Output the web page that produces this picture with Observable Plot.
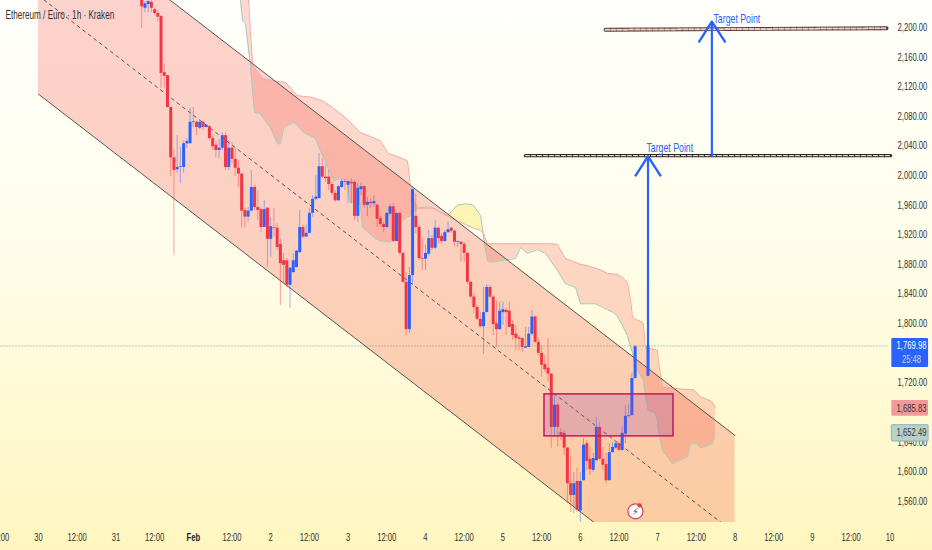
<!DOCTYPE html>
<html><head><meta charset="utf-8">
<script src="https://cdn.jsdelivr.net/npm/d3@7"></script>
<script src="https://cdn.jsdelivr.net/npm/@observablehq/plot@0.6"></script>
<style>html,body{margin:0;padding:0;background:#fffbe0}svg{display:block}</style>
</head><body><div id="chart"></div>
<script>
const candleHours = [...d3.range(32, 186), 189];
const opens = [
2243,2226,2231,2234,2224,2219,2215,2139,2135,2092,
2024,2008,2011,2011,2043,2043,2072,2072,2064,2072,
2065,2066,2050,2041,2034,2037,2054,2011,2037,2022,
2010,2002,1953,1944,1952,1984,1957,1954,1930,1956,
1914,1930,1929,1907,1885,1885,1852,1869,1876,1896,
1930,1917,1922,1949,1968,1969,2012,1998,1998,1988,
1976,1966,1984,1992,1987,1991,1991,1945,1981,1985,
1960,1964,1962,1960,1942,1934,1930,1948,1958,1911,
1949,1895,1856,1792,1865,1945,1930,1888,1887,1894,
1915,1902,1929,1918,1911,1923,1929,1925,1910,1910,
1907,1895,1856,1836,1822,1806,1796,1815,1849,1836,
1800,1792,1815,1818,1817,1799,1786,1781,1780,1767,
1768,1786,1809,1775,1760,1745,1740,1732,1660,1690,
1653,1652,1632,1584,1568,1587,1547,1588,1638,1617,
1602,1615,1660,1617,1610,1588,1626,1632,1638,1629,
1651,1675,1676,1726,1729];
const closes = [
2228,2232,2235,2226,2219,2214,2138,2134,2092,2024,
2007,2011,2012,2043,2046,2072,2073,2065,2072,2065,
2068,2050,2039,2034,2037,2054,2011,2037,2022,2010,
2002,1952,1944,1952,1984,1957,1953,1930,1954,1914,
1931,1929,1903,1881,1879,1852,1875,1885,1898,1930,
1917,1922,1949,1968,1971,2012,1998,1996,1988,1976,
1966,1985,1992,1991,1992,1989,1945,1983,1985,1960,
1964,1962,1965,1941,1934,1930,1949,1958,1911,1949,
1895,1856,1792,1865,1981,1930,1888,1887,1895,1915,
1902,1929,1915,1911,1923,1927,1925,1910,1911,1907,
1895,1856,1836,1822,1806,1796,1815,1849,1836,1799,
1792,1817,1819,1815,1795,1784,1780,1779,1768,1769,
1786,1809,1775,1760,1744,1738,1732,1660,1690,1660,
1649,1632,1584,1568,1584,1548,1587,1636,1614,1603,
1618,1660,1617,1609,1588,1626,1633,1638,1629,1652,
1675,1676,1726,1769,1770];
const highs = [
2247,2235,2239,2239,2226,2223,2216,2151,2135,2092,
2035,2054,2038,2047,2050,2091,2092,2074,2073,2074,
2069,2068,2054,2047,2049,2058,2058,2047,2045,2037,
2021,2004,1956,1957,2007,1987,1980,1956,1966,1957,
1944,1956,1935,1915,1895,1888,1876,1895,1899,1953,
1933,1933,1956,1973,2000,2030,2023,2014,2007,1991,
1980,1987,1995,1995,1993,1996,1993,1989,1989,1987,
1971,1969,1973,1962,1946,1937,1950,1961,1962,1950,
1950,1896,1869,1876,1983,1976,1933,1915,1906,1926,
1919,1939,1930,1922,1926,1937,1930,1926,1912,1911,
1910,1896,1857,1841,1825,1815,1849,1853,1852,1838,
1831,1829,1829,1821,1829,1804,1798,1784,1781,1795,
1795,1818,1811,1781,1771,1757,1780,1733,1706,1692,
1659,1656,1633,1620,1599,1605,1599,1645,1642,1633,
1625,1673,1667,1633,1625,1638,1640,1640,1640,1661,
1690,1691,1733,1771,1770];
const lows = [
2199,2220,2220,2220,2216,2207,2118,2118,2091,1999,
1892,2003,1989,2004,2037,2043,2065,2054,2062,2061,
2064,2047,2034,2024,2023,2034,2007,2007,2016,1999,
1984,1929,1929,1937,1952,1953,1939,1923,1930,1876,
1890,1917,1899,1825,1854,1849,1821,1869,1875,1895,
1915,1917,1922,1944,1966,1969,1996,1991,1980,1973,
1964,1966,1983,1980,1962,1962,1939,1937,1973,1956,
1945,1956,1957,1930,1930,1923,1929,1946,1910,1911,
1892,1854,1784,1787,1852,1922,1885,1872,1872,1892,
1899,1900,1908,1908,1910,1922,1922,1904,1903,1883,
1883,1853,1834,1814,1804,1794,1759,1815,1834,1784,
1768,1791,1798,1784,1794,1777,1764,1764,1761,1767,
1768,1784,1773,1757,1728,1734,1721,1632,1647,1633,
1642,1622,1557,1545,1544,1545,1530,1588,1602,1595,
1599,1615,1615,1602,1584,1588,1625,1630,1628,1628,
1638,1673,1675,1725,1729];

const cloudHours = [62.6,63.3,64.2,65.1,65.7,66.4,67,68.8,69.8,71.9,74.1,75,76,76.6,79.1,80.3,82.2,84.3,85.9,88.1,91.5,93.6,95.8,96.7,99.8,100.5,104.5,106,108.5,109.1,112.9,114.4,115.3,116,117.5,120.6,122.5,126.8,128.4,129.9,132.4,134.9,137.1,138,139.2,140.2,147.9,149.5,151.6,154.7,157.2,158.8,160.9,163.4,166.5,168.1,169.6,172.7,174.6,176.4,178.3,179.5,181.4,182.6,183.6,184.2,185.1,187.3,187.6,188.2,189.1,191.3,191.9,192.2,193.5,196.6,201.2,202.2,203.1,204.3,205.3,208.4,209,209.9];
const spanLower = [2239,2209,2205,2172,2151,2115,2085,2084,2077,2065,2043,2043,2064,2066,2072,2068,2058,2054,2050,2027,1993,1996,1989,1964,1962,1930,1915,1912,1910,1910,1939,1944,1946,1949,1956,1958,1956,1946,1953,1960,1962,1960,1946,1917,1885,1883,1888,1903,1895,1900,1895,1885,1872,1854,1849,1827,1827,1827,1823,1819,1815,1810,1795,1784,1768,1761,1741,1726,1723,1703,1683,1679,1669,1656,1629,1611,1620,1638,1638,1638,1632,1637,1638,1652];
const spanUpper = [2290,2277,2264,2238,2196,2151,2145,2135,2131,2129,2127,2127,2126,2126,2114,2108,2107,2106,2104,2101,2091,2084,2076,2072,2058,2057,2050,2047,2030,2029,2023,2020,1987,1973,1956,1956,1956,1945,1942,1939,1934,1929,1926,1922,1908,1908,1908,1908,1908,1908,1908,1908,1907,1888,1883,1880,1879,1875,1872,1868,1867,1867,1861,1856,1832,1809,1806,1802,1798,1768,1767,1765,1764,1750,1714,1713,1711,1711,1711,1706,1701,1696,1694,1686];

const channelHours = [0, 216];
const channelUpper = [2374, 1649];
const channelMiddle = [2243, 1517];
const channelLower = [2110, 1385];

const yTicks = [1560,1600,1640,1720,1800,1840,1880,1920,1960,2000,2040,2080,2120,2160,2200];
const xTickHours = [-12,0,12,24,36,60,72,84,96,108,120,132,144,156,168,180,192,204,216,228,240,252,264];
const xTickLabels = ["12:00","30","12:00","31","12:00","12:00","2","12:00","3","12:00","4","12:00","5","12:00","6","12:00","7","12:00","8","12:00","9","12:00","10"];
const FONT = "'Liberation Sans',sans-serif";
const RED = "#f23645", BLUE = "#2962ff";

const candles = candleHours.map((h, i) => ({h, o: opens[i], c: closes[i], hi: highs[i], lo: lows[i], col: closes[i] >= opens[i] ? BLUE : RED}));
const cloud = cloudHours.map((h, i) => ({h, a: spanLower[i], b: spanUpper[i]}));
const channel = channelHours.map((h, i) => ({h, u: channelUpper[i], m: channelMiddle[i], l: channelLower[i]}));
const target1 = [{h: 151, y: 2027}, {h: 264.2, y: 2027}];
const target2 = [{h: 175.8, y: 2197}, {h: 263, y: 2199}];
const arrows = [
  {shaft: [{h: 189, y: 1770}, {h: 189, y: 2026}], head: [{h: 185, y: 1999}, {h: 189, y: 2026}, {h: 193, y: 1999}]},
  {shaft: [{h: 208.8, y: 2027}, {h: 208.8, y: 2208}], head: [{h: 204.7, y: 2180}, {h: 208.8, y: 2208}, {h: 213, y: 2180}]}
];
const lineOpts = {x: "h", y: "y"};

const chart = Plot.plot({
  width: 932, height: 550,
  marginLeft: 0, marginRight: 44, marginTop: 0, marginBottom: 28,
  style: {background: "linear-gradient(#fffffc 0%, #fffdea 45%, #fff6bf 100%)", fontFamily: FONT, overflow: "hidden"},
  x: {type: "linear", domain: [-11.78, 263.57], axis: null},
  y: {type: "linear", domain: [1531.6, 2236.5], axis: null},
  marks: [
    Plot.ruleY([1770], {stroke: "#a9cfc6", strokeWidth: 1, strokeDasharray: "2,1"}),
    Plot.areaY(channel, {x: "h", y1: "u", y2: "l", fill: "#f44336", fillOpacity: 0.24, clip: true}),
    Plot.areaY(cloud, {x: "h", y1: "a", y2: d => Math.max(d.a, d.b), fill: "#f44336", fillOpacity: 0.2, clip: true}),
    Plot.areaY(cloud, {x: "h", y1: "b", y2: d => Math.max(d.a, d.b), fill: "#f6e34a", fillOpacity: 0.35, clip: true}),
    Plot.line(cloud, {x: "h", y: "a", stroke: "#a9c9bb", strokeWidth: 1, clip: true}),
    Plot.line(cloud, {x: "h", y: "b", stroke: "#f4aaa2", strokeWidth: 1, clip: true}),
    Plot.line(channel, {x: "h", y: "u", stroke: "#555", strokeWidth: 1, clip: true}),
    Plot.line(channel, {x: "h", y: "l", stroke: "#555", strokeWidth: 1, clip: true}),
    Plot.line(channel, {x: "h", y: "m", stroke: "#555", strokeWidth: 1, strokeDasharray: "3,4", clip: true}),
    Plot.ruleX(candles, {x: "h", y1: "lo", y2: "hi", stroke: "col", strokeOpacity: 0.45, strokeWidth: 1, clip: true}),
    Plot.ruleX(candles, {x: "h", y1: "o", y2: "c", stroke: "col", strokeWidth: 3, clip: true}),
    Plot.rect([{x1: 156.9, x2: 196.9, y1: 1647.9, y2: 1704.6}], {x1: "x1", x2: "x2", y1: "y1", y2: "y2", fill: "#9c48a3", fillOpacity: 0.25, stroke: "#c2185b", strokeWidth: 1.5}),
    Plot.line(target1, {...lineOpts, stroke: "#2b2b2b", strokeWidth: 3.4}),
    Plot.line(target1, {...lineOpts, stroke: "#f3d0c8", strokeWidth: 1.2, strokeDasharray: "4,2"}),
    Plot.line(target2, {...lineOpts, stroke: "#4a3c38", strokeWidth: 3.8}),
    Plot.line(target2, {...lineOpts, stroke: "#f8c6c0", strokeWidth: 2, strokeDasharray: "4,2"}),
    ...arrows.flatMap(a => [
      Plot.line(a.shaft, {...lineOpts, stroke: BLUE, strokeWidth: 2.2}),
      Plot.line(a.head, {...lineOpts, stroke: BLUE, strokeWidth: 2.4, strokeLinecap: "butt", strokeLinejoin: "miter"})
    ]),
    Plot.text(["Target Point"], {x: () => 188.5, y: () => 2036.7, textAnchor: "start", fill: BLUE, fontSize: 12, fontFamily: FONT}),
    Plot.text(["Target Point"], {x: () => 209.3, y: () => 2211, textAnchor: "start", fill: BLUE, fontSize: 12, fontFamily: FONT}),
    Plot.dot([{h: 185.1, y: 1546.6}], {x: "h", y: "y", r: 7.5, fill: "white", stroke: "#c9465f", strokeWidth: 1.2}),
    Plot.text(["⚡"], {x: () => 185.1, y: () => 1546.6, fill: "#555", fontSize: 10, fontFamily: "'DejaVu Sans'"}),
    Plot.dot([{h: 186.4, y: 1554.7}], {x: "h", y: "y", r: 2.2, fill: "#f23645"}),
    Plot.text(["Ethereum / Euro · 1h · Kraken"], {frameAnchor: "top-left", dx: 5, dy: 10, fill: "#333", fontSize: 12, fontFamily: FONT}),
    Plot.axisY({anchor: "right", ticks: yTicks, tickSize: 0, tickPadding: 9, tickFormat: d3.format(",.2f"), fontSize: 10.5, fontFamily: FONT, fill: "#333", label: null}),
    Plot.axisX({anchor: "bottom", ticks: xTickHours, tickSize: 0, tickPadding: 11, tickFormat: d => xTickLabels[xTickHours.indexOf(d)], fontSize: 10.5, fontFamily: FONT, fill: "#333", label: null}),
    Plot.axisX({anchor: "bottom", ticks: [48], tickSize: 0, tickPadding: 11, tickFormat: () => "Feb", fontSize: 10.5, fontWeight: "bold", fontFamily: FONT, fill: "#222", label: null}),
    Plot.rect([{x1: 264.6, x2: 276, y1: 1741, y2: 1780}], {x1: "x1", x2: "x2", y1: "y1", y2: "y2", fill: BLUE, rx: 1}),
    Plot.rect([{x1: 264.6, x2: 276, y1: 1675, y2: 1696.5}], {x1: "x1", x2: "x2", y1: "y1", y2: "y2", fill: "#f29a9a", rx: 1}),
    Plot.rect([{x1: 264.6, x2: 276, y1: 1641, y2: 1663}], {x1: "x1", x2: "x2", y1: "y1", y2: "y2", fill: "#b8d2cb", stroke: "#8fb0b8", rx: 1}),
    Plot.text(["1,769.98"], {x: () => 270.7, y: () => 1770, fill: "#fff", fontSize: 10.5, fontFamily: FONT}),
    Plot.text(["25:48"], {x: () => 270.7, y: () => 1751, fill: "#c7d6ff", fontSize: 10.5, fontFamily: FONT}),
    Plot.text(["1,685.83"], {x: () => 270.7, y: () => 1685.8, fill: "#333", fontSize: 10.5, fontFamily: FONT}),
    Plot.text(["1,652.49"], {x: () => 270.7, y: () => 1652.5, fill: "#333", fontSize: 10.5, fontFamily: FONT})
  ]
});
document.getElementById("chart").append(chart);
// the reference's labels are horizontally condensed; no narrow font is installed, so scale each text horizontally about its anchor
chart.querySelectorAll("text").forEach(t => {
  if (t.textContent === "⚡") return;
  const k = t.textContent.startsWith("Ethereum") ? 0.68 : 0.73;
  const x0 = +(t.getAttribute("x") || 0) ;
  const tr = t.getAttribute("transform") || "";
  t.setAttribute("transform", `${tr} translate(${x0},0) scale(${k},1) translate(${-x0},0)`);
});
</script>
</body></html>
